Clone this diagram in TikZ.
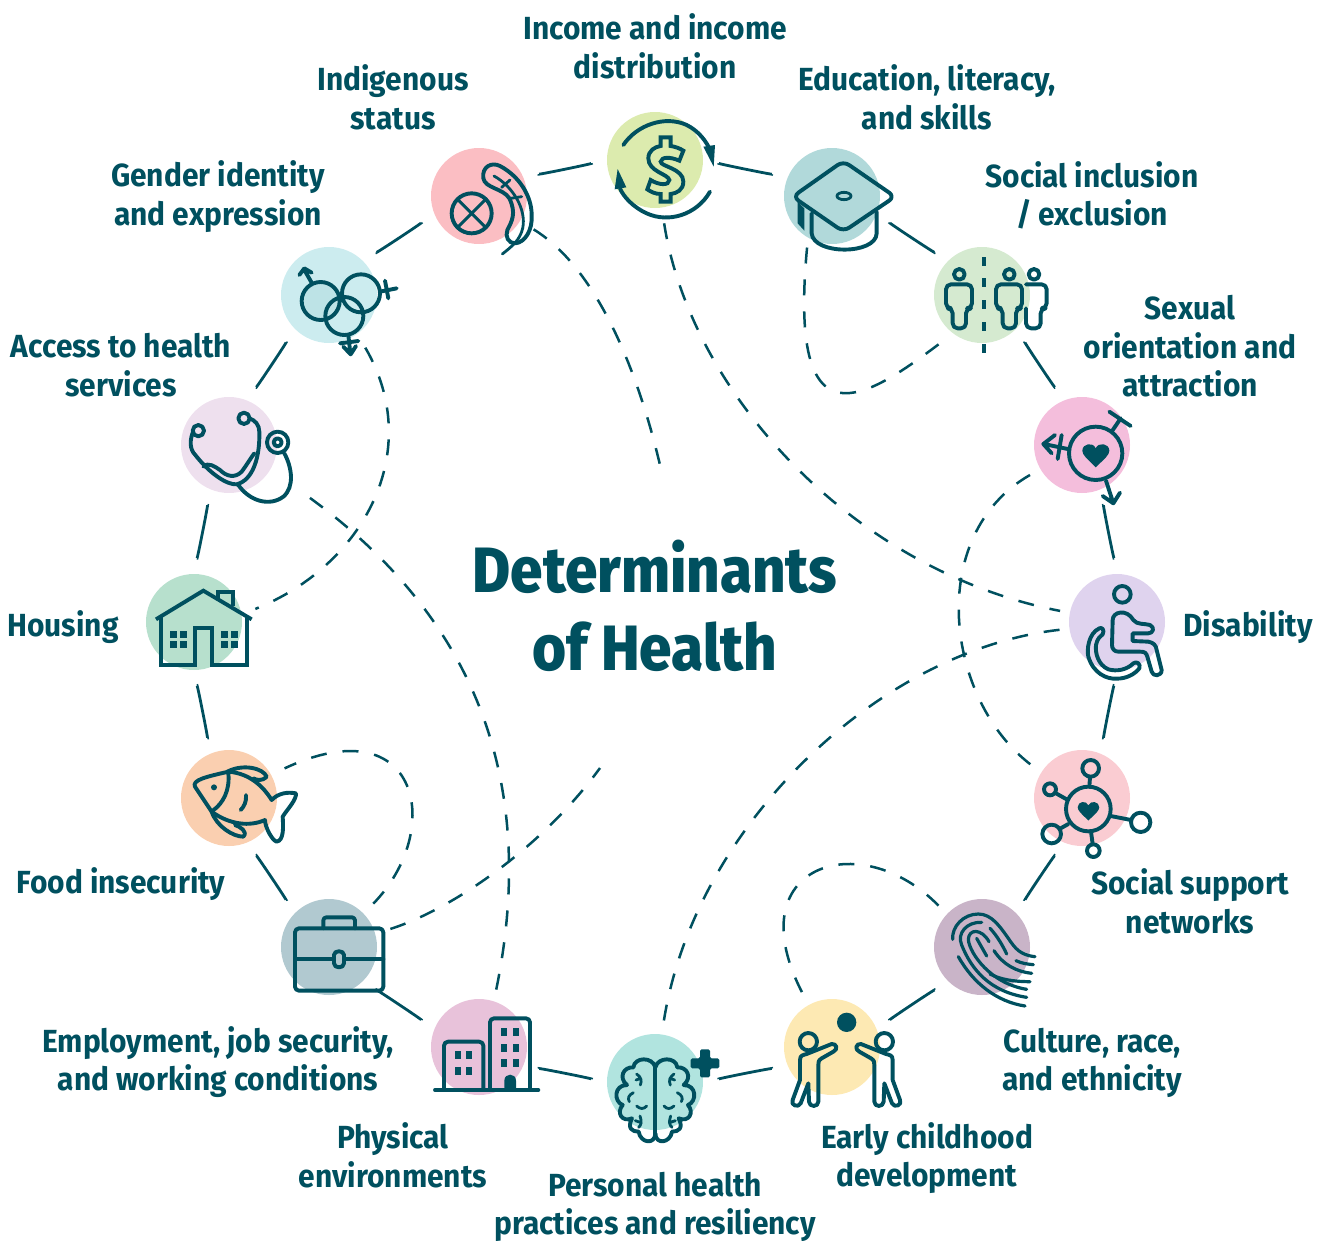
\documentclass[tikz,border=0pt]{standalone}
\usepackage{fontspec}
\setmainfont[FakeStretch=0.935]{Fira Sans}
\newfontfamily\titlefont[FakeStretch=0.912]{Fira Sans ExtraBold}
\definecolor{dark}{HTML}{00505F}
\definecolor{genderdark}{RGB}{189,227,230}
\tikzset{
  disc/.style={circle,minimum size=96,inner sep=0,outer sep=0,draw=none},
  ring/.style={draw=dark,line width=2.8,shorten >=16,shorten <=16,bend left=8.5,looseness=0.36},
  dashc/.style={draw=dark,line width=2.5,dash pattern=on 16 off 16},
  lab/.style={text=dark,font=\fontsize{32}{38.5}\selectfont\bfseries,align=center,inner sep=0},
  ttl/.style={text=dark,font=\fontsize{64}{78}\selectfont\titlefont,align=center,inner sep=0},
  ic/.style={draw=dark,line width=3.9,line cap=round,line join=round},
  icf/.style={fill=dark,draw=none},
  zm/.style={xscale=1/3,yscale=1/3}
}
\newcommand\myheart[3]{\begin{scope}[shift={(#1,#2)},scale=#3]
 \fill[dark] (0,42) .. controls (-27,15) and (-40,5) .. (-40,-8) .. controls (-40,-30) and (-7,-35) .. (0,-15) .. controls (8,-35) and (41,-30) .. (41,-8) .. controls (41,5) and (28,15) .. (0,42) -- cycle;
\end{scope}}
\newcommand\myperson[1]{\begin{scope}[shift={(#1,0)}]
 \draw[ic] (0,103) circle (16);
 \draw[ic,rounded corners=5pt] (-40,205) -- (-40,133) -- (38,133) -- (38,205) -- (20,205) -- (20,265) -- (-20,265) -- (-20,205) -- cycle;
\end{scope}}
\begin{document}
\begin{tikzpicture}[x=1pt,y=-1pt]
\useasboundingbox (0,0) rectangle (1328,1240);
% discs
\node[disc,fill={rgb,255:red,220;green,235;blue,174}] (income) at (655,160) {};
\node[disc,fill={rgb,255:red,177;green,217;blue,218}] (education) at (832,196) {};
\node[disc,fill={rgb,255:red,213;green,234;blue,208}] (inclusion) at (982,295) {};
\node[disc,fill={rgb,255:red,244;green,190;blue,220}] (sexual) at (1082,445) {};
\node[disc,fill={rgb,255:red,223;green,211;blue,238}] (disability) at (1117,622) {};
\node[disc,fill={rgb,255:red,250;green,204;blue,210}] (support) at (1082,798) {};
\node[disc,fill={rgb,255:red,201;green,180;blue,200}] (culture) at (982,947) {};
\node[disc,fill={rgb,255:red,253;green,233;blue,179}] (early) at (832,1047) {};
\node[disc,fill={rgb,255:red,177;green,228;blue,223}] (personal) at (655,1082) {};
\node[disc,fill={rgb,255:red,232;green,194;blue,218}] (physical) at (479,1047) {};
\node[disc,fill={rgb,255:red,177;green,201;blue,208}] (employment) at (329,947) {};
\node[disc,fill={rgb,255:red,250;green,207;blue,176}] (food) at (229,798) {};
\node[disc,fill={rgb,255:red,183;green,224;blue,205}] (housing) at (194,622) {};
\node[disc,fill={rgb,255:red,238;green,224;blue,238}] (access) at (229,445) {};
\node[disc,fill={rgb,255:red,204;green,236;blue,239}] (gender) at (329,295) {};
\node[disc,fill={rgb,255:red,251;green,190;blue,195}] (indigenous) at (479,196) {};
% ring
\foreach \a/\b in {income/education,education/inclusion,inclusion/sexual,sexual/disability,disability/support,support/culture,culture/early,early/personal,personal/physical,physical/employment,employment/food,food/housing,housing/access,access/gender,gender/indigenous,indigenous/income}
  \draw[ring] (\a) to (\b);
% dashed
\coordinate (free1) at (660,465);
\coordinate (free2) at (600,768);
\draw[dashc,shorten <=16] (indigenous) .. controls (600,270) and (640,380) .. (free1);
\draw[dashc,shorten <=16,shorten >=10] (income.-82) .. controls (690,390) and (850,570) .. (disability);
\draw[dashc,shorten <=10,shorten >=15] (education.240) .. controls (788,450) and (865,400) .. (inclusion.233);
\draw[dashc,shorten <=12,shorten >=12] (sexual.210) .. controls (925,535) and (945,700) .. (support.148);
\draw[dashc,shorten <=10,shorten >=14] (disability.188) .. controls (880,650) and (695,825) .. (personal.82);
\draw[dashc,shorten <=12,shorten >=12] (culture.137) .. controls (860,825) and (735,865) .. (early.119);
\draw[dashc,shorten <=12,shorten >=39] (physical.72) .. controls (535,800) and (490,625) .. (access.-31);
\draw[dashc,shorten <=16] (employment.16) .. controls (450,910) and (540,850) .. (free2);
\draw[dashc,shorten <=14,shorten >=15] (employment.44) .. controls (445,830) and (420,705) .. (food.29);
\draw[dashc,shorten <=16,shorten >=15] (gender.-54) .. controls (425,450) and (365,565) .. (housing.9);
% labels
\node[lab] (tincome) at (655,46.5) {Income and income\\distribution};
\node[lab] (tindigenous) at (393,97.5) {Indigenous\\status};
\node[lab] (teducation) at (927,97.5) {Education, literacy,\\and skills};
\node[lab] (tgender) at (218,196.5) {Gender identity\\and expression};
\node[lab] (tinclusion) at (1092,195.5) {Social inclusion\\/ exclusion};
\node[lab] (taccess) at (121,365) {Access to health\\services};
\node[lab] (tsexual) at (1190,346.5) {Sexual\\orientation and\\attraction};
\node[lab] (thousing) at (63,627) {Housing};
\node[lab] (tdisability) at (1248,627) {Disability};
\node[lab] (tfood) at (121,884) {Food insecurity};
\node[lab] (tsupport) at (1190,901.5) {Social support\\networks};
\node[lab] (temployment) at (218,1062) {Employment, job security,\\and working conditions};
\node[lab] (tculture) at (1092,1063) {Culture, race,\\and ethnicity};
\node[lab] (tphysical) at (393,1155.5) {Physical\\environments};
\node[lab] (tearly) at (927,1158) {Early childhood\\development};
\node[lab] (tpersonal) at (655,1207) {Personal health\\practices and resiliency};
\node[ttl] (title) at (655,606) {Determinants\\of Health};
% === icons, zoom 1
\begin{scope}[shift={(420,100)},zm]
 % indigenous
 \draw[ic] (155,340) circle (60);
 \draw[ic,line width=3] (112,297) -- (198,383) (198,297) -- (112,383);
 \draw[ic] (190,235) .. controls (185,200) and (215,185) .. (240,198) .. controls (300,230) and (335,290) .. (335,345) .. controls (338,390) and (315,428) .. (285,430) .. controls (265,430) and (255,410) .. (262,390) .. controls (275,365) and (290,340) .. (268,295) .. controls (250,265) and (195,265) .. (190,235) -- cycle;
 \draw[ic,line width=2.8] (222,228) .. controls (280,260) and (320,330) .. (308,385) .. controls (300,420) and (275,440) .. (247,462);
 \draw[ic,line width=2.8] (245,262) -- (270,240) (272,295) -- (305,290);
 % income
 \draw[ic] (610,135) .. controls (650,75) and (735,45) .. (800,75) .. controls (835,92) and (860,125) .. (870,150);
 \fill[dark] (850,140) -- (885,135) -- (881,200) -- cycle;
 \draw[ic] (870,275) .. controls (830,345) and (745,370) .. (680,340) .. controls (640,322) and (610,290) .. (600,265);
 \fill[dark] (584,268) -- (619,262) -- (593,207) -- cycle;
 \draw[ic,line join=miter] (722,112) -- (752,112) -- (752,138) .. controls (765,140) and (780,145) .. (790,152) -- (778,182) .. controls (750,170) and (725,170) .. (722,185) .. controls (722,200) and (790,205) .. (790,245) .. controls (790,270) and (770,280) .. (752,282) -- (752,305) -- (722,305) -- (722,282) .. controls (705,282) and (692,275) .. (682,268) -- (692,240) .. controls (715,255) and (748,258) .. (748,240) .. controls (745,222) and (685,215) .. (685,175) .. controls (685,152) and (705,140) .. (722,138) -- cycle;
 % education
 \draw[ic,rounded corners=7pt] (1270,183) -- (1425,290) -- (1270,395) -- (1118,290) -- cycle;
 \draw[ic,line width=2.8] (1272,288) ellipse [x radius=21,y radius=11];
 \draw[ic] (1175,340) -- (1175,400) .. controls (1180,465) and (1368,465) .. (1370,400) -- (1370,335);
 \fill[dark] (1133,305) -- (1153,325) -- (1153,392) -- (1133,370) -- cycle;
\end{scope}
% === zoom 2
\begin{scope}[shift={(920,240)},zm]
 \foreach \yy in {50,115,180,245,312} \fill[dark] (187,\yy) rectangle (198,\yy+27);
 \draw[ic] (342,103) circle (16);
 \draw[ic,rounded corners=5pt] (318,133) -- (380,133) -- (380,205) -- (362,205) -- (362,265) -- (318,265) -- (318,205);
 \myperson{118}
 \myperson{268}
 % sexual
 \draw[ic] (527,640) circle (80);
 \myheart{527}{640}{1}
 \draw[ic] (575,575) -- (602,535) (568,515) -- (632,558);
 \draw[ic] (448,628) -- (372,612) (405,585) -- (370,612) -- (395,640) (425,585) -- (413,657);
 \draw[ic] (558,722) -- (580,790) (548,768) -- (580,790) -- (600,758);
\end{scope}
% === zoom 3
\begin{scope}[shift={(1020,570)},zm]
 \draw[ic] (307,73) circle (25);
 \draw[ic] (278,150) .. controls (278,125) and (320,115) .. (340,150) .. controls (350,165) and (375,160) .. (390,165) .. controls (405,172) and (400,190) .. (385,190) -- (338,190) -- (338,213) -- (385,215) .. controls (400,218) and (408,225) .. (410,240) -- (425,300) .. controls (425,320) and (398,320) .. (395,305) -- (382,260) .. controls (378,248) and (375,245) .. (360,245) -- (295,245) .. controls (282,245) and (276,235) .. (276,225) -- cycle;
 \draw[ic] (238,175) .. controls (205,190) and (200,240) .. (205,260) .. controls (220,310) and (260,328) .. (290,326) .. controls (320,326) and (345,312) .. (358,295) .. controls (363,282) and (350,272) .. (340,280) .. controls (320,300) and (290,305) .. (265,298) .. controls (235,285) and (225,250) .. (228,225) .. controls (232,205) and (240,200) .. (248,193) .. controls (255,180) and (245,170) .. (238,175) -- cycle;
 % support
 \draw[ic] (205,717) circle (67);
 \myheart{205}{718}{0.8}
 \draw[ic] (212,595) circle (25) (210,622) -- (208,650);
 \draw[ic] (90,658) circle (18) (108,670) -- (140,688);
 \draw[ic] (95,792) circle (28) (122,775) -- (145,762);
 \draw[ic] (220,842) circle (19) (213,785) -- (218,822);
 \draw[ic] (362,757) circle (29) (272,738) -- (333,750);
\end{scope}
% === zoom 4
\begin{scope}[shift={(770,890)},zm]
 \draw[ic,line width=3.2] (548,148) .. controls (545,110) and (580,72) .. (625,72) .. controls (665,72) and (690,110) .. (715,145) .. controls (735,175) and (750,195) .. (795,200);
 \draw[ic,line width=3.2] (635,97) .. controls (590,95) and (560,130) .. (575,165) .. controls (605,240) and (660,305) .. (770,322);
 \draw[ic,line width=3.2] (565,200) .. controls (610,280) and (680,335) .. (765,348);
 \draw[ic,line width=3.2] (660,115) .. controls (680,135) and (700,170) .. (710,192);
 \draw[ic,line width=3.2] (657,155) .. controls (635,115) and (595,115) .. (595,150) .. controls (600,190) and (660,280) .. (770,298);
 \draw[ic,line width=3.2] (620,145) -- (650,198);
 \draw[ic,line width=3.2] (672,182) .. controls (700,225) and (740,245) .. (785,250);
 \draw[ic,line width=3.2] (738,212) .. controls (755,220) and (770,222) .. (790,224);
 \draw[ic,line width=3.2] (660,252) .. controls (690,268) and (730,275) .. (780,275);
 % early
 \fill[dark] (230,397) circle (29);
 \draw[ic] (115,455) circle (26);
 \draw[ic] (343,455) circle (26);
 \draw[ic] (185,462) .. controls (200,460) and (205,478) .. (190,485) -- (155,505) .. controls (145,512) and (145,515) .. (145,525) -- (145,635) .. controls (145,652) and (118,652) .. (117,635) -- (115,580) -- (92,640) .. controls (85,655) and (60,645) .. (68,630) -- (90,570) -- (90,510) .. controls (90,495) and (100,495) .. (110,492) -- cycle;
 \draw[ic] (273,462) .. controls (258,460) and (253,478) .. (268,485) -- (303,505) .. controls (313,512) and (313,515) .. (313,525) -- (313,635) .. controls (313,652) and (340,652) .. (341,635) -- (343,580) -- (366,640) .. controls (373,655) and (398,645) .. (390,630) -- (368,570) -- (368,510) .. controls (368,495) and (358,495) .. (348,492) -- cycle;
\end{scope}
% === zoom 5
\begin{scope}[shift={(420,990)},zm]
 \draw[ic] (45,300) -- (355,300);
 \draw[ic,rounded corners=4pt] (72,298) -- (72,155) -- (190,155) -- (190,298);
 \draw[ic,rounded corners=4pt] (210,298) -- (210,85) -- (330,85) -- (330,298);
 \foreach \xx/\yy in {105/183,138/183,105/231,138/231} \fill[dark] (\xx,\yy) rectangle (\xx+19,\yy+24);
 \foreach \xx in {243,279} \foreach \yy in {115,162,207} \fill[dark] (\xx,\yy) rectangle (\xx+19,\yy+24);
 \fill[dark] (253,298) -- (253,272) .. controls (253,248) and (288,248) .. (288,272) -- (288,298) -- cycle;
 % brain
 \foreach \s in {1,-1} {
 \begin{scope}[shift={(706,0)},xscale=\s]
  \draw[ic] (0,225) -- (0,440);
  \draw[ic] (0,232) .. controls (-8,200) and (-62,200) .. (-66,232) .. controls (-95,230) and (-112,262) .. (-85,285) .. controls (-125,285) and (-125,335) .. (-98,345) .. controls (-118,368) and (-100,398) .. (-70,385) .. controls (-85,415) and (-70,425) .. (-50,425) .. controls (-45,460) and (0,465) .. (0,430);
  \draw[ic,line width=2.8] (-56,252) .. controls (-42,262) and (-40,272) .. (-45,285) (-44,265) -- (-58,270);
  \draw[ic,line width=2.8] (-66,308) .. controls (-80,315) and (-84,325) .. (-78,335);
  \draw[ic,line width=2.8] (-56,348) .. controls (-45,358) and (-35,358) .. (-26,348);
  \draw[ic,line width=2.8] (-46,378) .. controls (-40,395) and (-42,405) .. (-50,412) (-42,398) -- (-60,392);
 \end{scope}}
 \fill[dark,rounded corners=1.5pt] (840,178) -- (870,178) -- (870,205) -- (898,205) -- (898,235) -- (870,235) -- (870,262) -- (840,262) -- (840,235) -- (812,235) -- (812,205) -- (840,205) -- cycle;
\end{scope}
% === zoom 6
\begin{scope}[shift={(140,570)},zm]
 % housing
 \draw[ic,line cap=butt,line join=miter] (48,148) -- (190,62) -- (335,148);
 \draw[ic,line cap=butt,line join=miter] (62,140) -- (62,285) -- (165,285) -- (165,175) -- (217,175) -- (217,285) -- (322,285) -- (322,140);
 \draw[ic,line cap=butt,line join=miter] (235,85) -- (235,65) -- (278,65) -- (278,108);
 \foreach \xx in {90,120,243,273} \foreach \yy in {183,213} \fill[dark] (\xx,\yy) rectangle (\xx+22,\yy+22);
 % food
 \draw[ic] (165,650) .. controls (155,630) and (200,620) .. (265,605) .. controls (330,610) and (370,650) .. (395,690) .. controls (415,670) and (440,665) .. (468,670) .. controls (470,690) and (440,720) .. (428,740) .. controls (430,770) and (432,812) .. (410,815) .. controls (395,810) and (375,770) .. (375,750) .. controls (330,770) and (270,765) .. (215,725) -- cycle;
 \draw[ic] (265,610) .. controls (270,660) and (250,700) .. (218,722);
 \fill[dark] (222,652) circle (9);
 \draw[ic] (262,605) .. controls (310,580) and (370,595) .. (380,620) .. controls (365,635) and (350,630) .. (340,625);
 \draw[ic] (215,725) .. controls (230,770) and (280,800) .. (310,800) .. controls (325,785) and (300,770) .. (285,765);
 \draw[ic] (318,675) .. controls (320,695) and (312,710) .. (302,720);
 % employment
 \draw[ic,rounded corners=4pt] (465,1075) rectangle (730,1262);
 \draw[ic,rounded corners=3pt] (550,1075) -- (550,1042) -- (645,1042) -- (645,1075);
 \draw[ic] (465,1168) -- (582,1168) (612,1168) -- (730,1168);
 \draw[ic] (582,1155) .. controls (582,1140) and (612,1140) .. (612,1155) -- (612,1180) .. controls (612,1196) and (582,1196) .. (582,1180) -- cycle;
\end{scope}
% === zoom 7
\begin{scope}[shift={(170,240)},zm]
 % gender
 \fill[genderdark] (452,183) circle (57);
 \draw[ic] (452,183) circle (57) (573,160) circle (57) (523,228) circle (57);
 \draw[ic] (425,128) -- (402,88) (388,105) -- (403,85) -- (425,98);
 \draw[ic] (630,155) -- (680,145) (645,122) -- (655,175);
 \draw[ic] (535,285) -- (541,340) (510,310) -- (565,303) (520,320) -- (542,343) -- (558,318);
 % access
 \draw[ic] (85,572) circle (17) (222,535) circle (17);
 \draw[ic] (68,578) .. controls (55,615) and (65,635) .. (80,650) .. controls (120,700) and (170,735) .. (200,733) .. controls (250,720) and (270,650) .. (268,575) .. controls (268,555) and (255,540) .. (238,535);
 \draw[ic] (100,680) .. controls (115,665) and (135,680) .. (150,690) .. controls (170,710) and (195,715) .. (215,695) .. controls (230,675) and (245,650) .. (253,640);
 \draw[ic] (205,735) .. controls (240,785) and (300,800) .. (340,770) .. controls (375,740) and (365,680) .. (343,640);
 \draw[ic] (323,607) circle (32) (323,607) circle (12);
\end{scope}
\end{tikzpicture}
\end{document}
